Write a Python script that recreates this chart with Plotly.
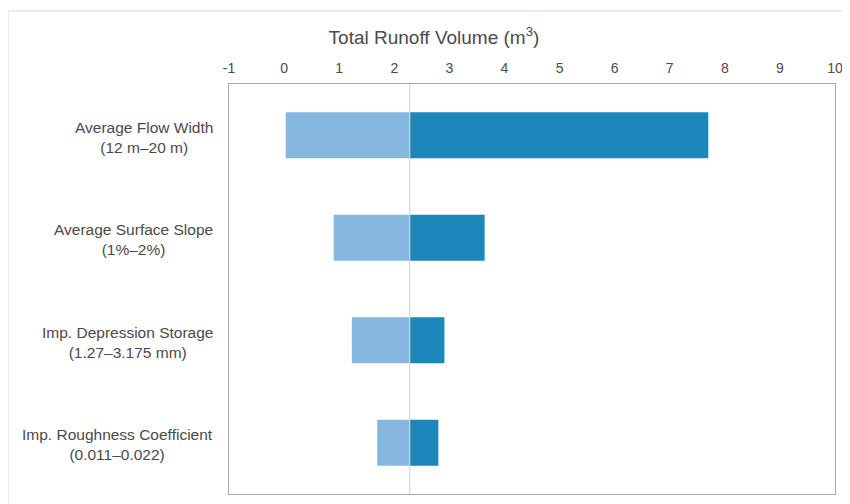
import plotly.graph_objects as go

# ---------------------------------------------------------------------------
# Data
# ---------------------------------------------------------------------------
PARAMETERS = [
    "Average Flow Width",
    "Average Surface Slope",
    "Imp. Depression Storage",
    "Imp. Roughness Coefficient",
]
RANGES = [
    "(12 m–20 m)",
    "(1%–2%)",
    "(1.27–3.175 mm)",
    "(0.011–0.022)",
]
BASELINE = 2.28
LOW_VALUES = [0.03, 0.90, 1.23, 1.69]
HIGH_VALUES = [7.70, 3.64, 2.91, 2.80]
X_TICKS = list(range(-1, 11))

LIGHT_BLUE = "#86b8df"
DARK_BLUE = "#1c87bb"
TEXT_GRAY = "#4a4a4a"
FONT = "Liberation Sans, Arial, sans-serif"

# the page body has an 8px margin, so the figure is sized to fit inside it
FIG_W, FIG_H = 842, 496
M_L, M_R, M_T, M_B = 221, 15, 76, 10
PLOT_W = FIG_W - M_L - M_R
PLOT_H = FIG_H - M_T - M_B

fig = go.Figure()

# Low side: from the low value up to the baseline
fig.add_trace(go.Bar(
    y=PARAMETERS,
    x=[BASELINE - v for v in LOW_VALUES],
    base=LOW_VALUES,
    orientation="h",
    marker=dict(color=LIGHT_BLUE, line=dict(width=0)),
    width=0.45,
    showlegend=False,
    hoverinfo="skip",
))

# High side: from the baseline up to the high value
fig.add_trace(go.Bar(
    y=PARAMETERS,
    x=[v - BASELINE for v in HIGH_VALUES],
    base=[BASELINE] * len(HIGH_VALUES),
    orientation="h",
    marker=dict(color=DARK_BLUE, line=dict(width=0)),
    width=0.45,
    showlegend=False,
    hoverinfo="skip",
))

# Baseline reference line
fig.add_vline(x=BASELINE, line_color="#d6d6d6", line_width=1.2, layer="above")

# Category labels, two centred lines each
for name, rng in zip(PARAMETERS, RANGES):
    fig.add_annotation(
        x=0, xref="paper", y=name, yref="y",
        xanchor="right", xshift=-14, yshift=-2,
        text=f"{name}<br>{rng}",
        align="center",
        showarrow=False,
        font=dict(family=FONT, size=15.5, color=TEXT_GRAY),
    )

# Faint outer frame (top and left edges)
frame_x = -M_L / PLOT_W
frame_y = 1 + (M_T - 3) / PLOT_H
fig.add_shape(type="line", xref="paper", yref="paper",
              x0=frame_x, x1=1.1, y0=frame_y, y1=frame_y,
              line=dict(color="#e6e6e6", width=1.5))
fig.add_shape(type="line", xref="paper", yref="paper",
              x0=frame_x, x1=frame_x, y0=frame_y, y1=-0.1,
              line=dict(color="#e6e6e6", width=1.5))

fig.update_layout(
    width=FIG_W,
    height=FIG_H,
    barmode="overlay",
    paper_bgcolor="white",
    plot_bgcolor="white",
    margin=dict(l=M_L, r=M_R, t=M_T, b=M_B, autoexpand=False),
    font=dict(family=FONT, color=TEXT_GRAY),
    title=dict(
        text="Total Runoff Volume (m<sup>3</sup>)",
        x=426 / FIG_W, xref="container", xanchor="center",
        y=1 - 29 / FIG_H, yref="container", yanchor="middle",
        font=dict(family=FONT, size=19, color=TEXT_GRAY),
    ),
    xaxis=dict(
        side="top",
        range=[-1, 10],
        tickvals=X_TICKS,
        ticktext=[str(v) for v in X_TICKS],
        showgrid=False,
        zeroline=False,
        showline=True,
        linecolor="#a8a8a8",
        linewidth=1.2,
        mirror=True,
        ticks="",
        ticklabelstandoff=4,
        automargin=False,
        tickfont=dict(family=FONT, size=14, color=TEXT_GRAY),
    ),
    yaxis=dict(
        autorange="reversed",
        showticklabels=False,
        showgrid=False,
        zeroline=False,
        showline=True,
        linecolor="#a8a8a8",
        linewidth=1.2,
        mirror=True,
        ticks="",
        automargin=False,
    ),
)

fig.write_html("out.html")
